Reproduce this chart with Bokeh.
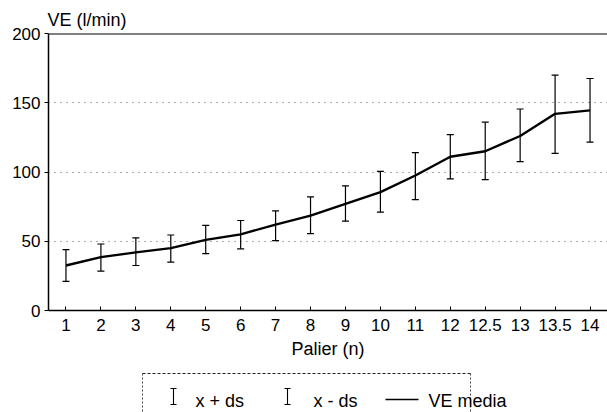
from bokeh.plotting import figure
from bokeh.models import (ColumnDataSource, FactorRange, Range1d, Whisker, TeeHead,
                          Span, FixedTicker)
from bokeh.layouts import column
from bokeh.core.properties import value
from bokeh.embed import file_html
from bokeh.resources import INLINE

# ---- data ----
paliers = ["1", "2", "3", "4", "5", "6", "7", "8", "9", "10", "11", "12",
           "12.5", "13", "13.5", "14"]
ve_mean = [32.5, 38.5, 42, 45, 51, 55, 62, 68.5, 77, 85.5, 97.5, 111,
           115, 126, 142, 144.5]
ve_plus = [44, 48, 52.5, 54.5, 61.5, 65, 72, 82, 90, 100.5, 114, 127,
           136, 145.5, 170, 167.5]
ve_minus = [21, 28.5, 32.5, 35, 41, 44.5, 50.5, 55.5, 64.5, 71, 80, 95,
            94.5, 107.5, 113.5, 121.5]
y_ticks = [0, 50, 100, 150, 200]
grid_vals = [50, 100, 150]
legend_labels = ["x + ds", "x - ds", "VE media"]
y_title = "VE (l/min)"
x_title = "Palier (n)"

FONT = "Liberation Sans"

src = ColumnDataSource(dict(x=paliers, mean=ve_mean, plus=ve_plus, minus=ve_minus))

p = figure(width=607, height=366, x_range=FactorRange(*paliers, range_padding=0),
           y_range=Range1d(0, 200), output_backend="svg", toolbar_location=None,
           min_border_left=48, min_border_right=0, min_border_top=33,
           min_border_bottom=56, title=y_title)
p.outline_line_color = None
p.background_fill_color = "white"

p.title.align = "left"
p.title.text_font = FONT
p.title.text_font_size = "18px"
p.title.text_font_style = "normal"
p.title.text_color = "black"
p.title.standoff = 7
p.title.offset = -1

# grid
p.xgrid.visible = False
p.ygrid.ticker = FixedTicker(ticks=grid_vals)
p.ygrid.grid_line_color = "#333333"
p.ygrid.grid_line_dash = "1 5"
p.ygrid.grid_line_width = 1
p.ygrid.grid_line_alpha = 0.8

# top line
p.add_layout(Span(location=200, dimension="width", line_color="black", line_width=2))

# axes
for ax in (p.xaxis, p.yaxis):
    ax.axis_line_color = "black"
    ax.major_tick_line_color = "black"
    ax.major_label_text_color = "black"
    ax.major_label_text_font = FONT
    ax.major_label_text_font_size = "17px"
    ax.minor_tick_line_color = None
    ax.axis_line_width = 1.5

p.yaxis.ticker = FixedTicker(ticks=y_ticks)
p.yaxis.major_tick_out = 4
p.yaxis.major_tick_in = 0
p.yaxis.major_label_standoff = 4

p.xaxis.major_tick_in = 4
p.xaxis.major_tick_out = 0
p.xaxis.major_label_standoff = 8
p.xaxis.axis_label = x_title
p.xaxis.axis_label_standoff = 5
p.xaxis.axis_label_text_font = FONT
p.xaxis.axis_label_text_font_size = "18px"
p.xaxis.axis_label_text_font_style = "normal"
p.xaxis.axis_label_text_color = "black"

# error bars
w_up = Whisker(source=src, base="x", upper="plus", lower="mean", dimension="height",
               line_color="black", line_width=1.2,
               upper_head=TeeHead(size=7, line_color="black", line_width=1.2),
               lower_head=None)
w_dn = Whisker(source=src, base="x", upper="mean", lower="minus", dimension="height",
               line_color="black", line_width=1.2,
               lower_head=TeeHead(size=7, line_color="black", line_width=1.2),
               upper_head=None)
p.add_layout(w_up)
p.add_layout(w_dn)

# mean line
p.line(x="x", y="mean", source=src, line_color="black", line_width=2.4)

# ---- legend figure (frame aligned with the main frame: x 48..607) ----
lg = figure(width=607, height=46, x_range=Range1d(48, 607), y_range=Range1d(0, 46),
            output_backend="svg", toolbar_location=None,
            min_border_left=48, min_border_right=0, min_border_top=0, min_border_bottom=0)
lg.axis.visible = False
lg.grid.visible = False
lg.outline_line_color = None

box_l, box_r, box_t, box_b = 142, 470, 39, -5
lg.line(x=[box_l, box_r], y=[box_t, box_t], line_color="#222222", line_dash="3 2", line_width=1)
lg.line(x=[box_l, box_l], y=[box_t, box_b], line_color="#444444", line_dash="2 2", line_width=1)
lg.line(x=[box_r, box_r], y=[box_t, box_b], line_color="#444444", line_dash="2 2", line_width=1)

sym_x = [173, 287]
for sx in sym_x:
    lg.segment(x0=[sx, sx - 3, sx - 3], y0=[8, 24, 8],
               x1=[sx, sx + 3, sx + 3], y1=[24, 24, 8],
               line_color="black", line_width=1.1)
lg.line(x=[385, 418], y=[13, 13], line_color="black", line_width=1.5)
lg.text(x=[195, 313, 428], y=[12, 12, 12], text=legend_labels,
        text_font=value(FONT), text_font_size=value("18px"),
        text_baseline="alphabetic", text_align="left", text_color="black")

layout = column(p, lg, spacing=0)

open("out.html", "w").write(file_html(layout, INLINE))
